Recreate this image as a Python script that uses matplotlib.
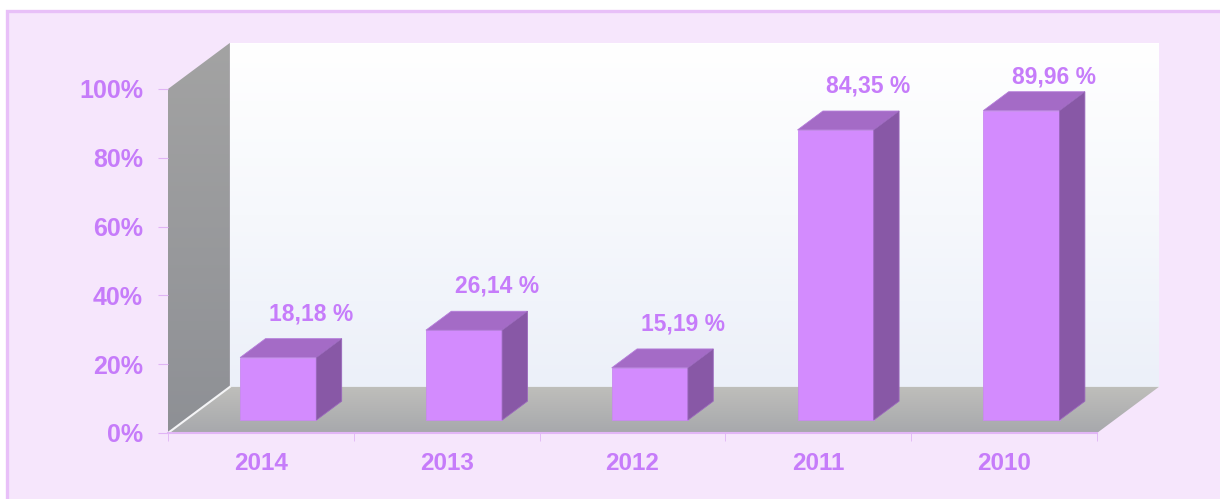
import numpy as np
import matplotlib.pyplot as plt
from matplotlib.patches import Polygon, Rectangle
from matplotlib.colors import LinearSegmentedColormap

years = ['2014', '2013', '2012', '2011', '2010']
values = [18.18, 26.14, 15.19, 84.35, 89.96]
labels = ['18,18 %', '26,14 %', '15,19 %', '84,35 %', '89,96 %']
yticks = [0, 20, 40, 60, 80, 100]

TXT = '#C67CFA'
FRONT = '#D38BFE'
TOP = '#A46BC6'
SIDE = '#8858A6'

# depth of the 3d box in data units
DX, DY = 0.333, 13.4
BW = 0.41
F1, F2 = 0.28, 0.69  # bar front / back depth fraction

plt.rcParams['font.family'] = ['Liberation Sans', 'DejaVu Sans']

fig = plt.figure(figsize=(12.2, 4.99), dpi=100)
fig.patch.set_facecolor('white')
fig.patches.append(Rectangle((7 / 1220, -0.1), 1.1, 1.1 - 11.5 / 499,
                             transform=fig.transFigure, facecolor='#F6E6FC',
                             edgecolor='#E8C0F8', lw=2.4, zorder=-10))

ax = fig.add_axes([168 / 1220, 66 / 499, 929 / 1220, 344 / 499])
ax.patch.set_alpha(0)
for s in ax.spines.values():
    s.set_visible(False)

x0, x1 = -0.5, 4.5
grad = np.linspace(0, 1, 256).reshape(-1, 1)


def gradient_poly(pts, colors, extent, z):
    poly = Polygon(pts, closed=True, facecolor='none', edgecolor='none')
    ax.add_patch(poly)
    cm = LinearSegmentedColormap.from_list('g', colors)
    im = ax.imshow(grad, cmap=cm, origin='lower', aspect='auto',
                   extent=extent, zorder=z, interpolation='bilinear')
    im.set_clip_path(poly)
    im.set_clip_box(fig.bbox)
    return im


# back wall
gradient_poly([[x0 + DX, DY], [x1 + DX, DY], [x1 + DX, 100 + DY], [x0 + DX, 100 + DY]],
              ['#ECF0F9', '#F6F8FC', '#FFFFFF'],
              [x0 + DX, x1 + DX, DY, 100 + DY], 0)
# left side wall
gradient_poly([[x0, 0], [x0 + DX, DY], [x0 + DX, 100 + DY], [x0, 100]],
              ['#8E9095', '#A3A3A3'], [x0, x0 + DX, 0, 100 + DY], 1)
# floor
gradient_poly([[x0, 0], [x1, 0], [x1 + DX, DY], [x0 + DX, DY]],
              ['#A7A8AC', '#BFBFBB'], [x0, x1 + DX, 0, DY], 1)
ax.plot([x0, x0 + DX], [0, DY], color='#F4F4F6', lw=1.5, zorder=2, clip_on=False)

# bars
for i, v in enumerate(values):
    xl = i - BW / 2 + F1 * DX
    xr = xl + BW
    yb = F1 * DY
    yt = yb + v
    d = F2 - F1
    front = Polygon([[xl, yb], [xr, yb], [xr, yt], [xl, yt]],
                    facecolor=FRONT, edgecolor='#C98AF0', lw=0.6, zorder=4)
    top = Polygon([[xl, yt], [xr, yt], [xr + d * DX, yt + d * DY], [xl + d * DX, yt + d * DY]],
                  facecolor=TOP, edgecolor='#B47BDA', lw=0.6, zorder=4)
    rside = Polygon([[xr, yb], [xr + d * DX, yb + d * DY], [xr + d * DX, yt + d * DY], [xr, yt]],
                    facecolor=SIDE, edgecolor='#9A68BC', lw=0.6, zorder=4)
    for p in (front, top, rside):
        p.set_clip_on(False)
        ax.add_patch(p)
    ly = min(yt + d * DY + 7.3, 103.5)
    ax.text(i + 0.27, ly, labels[i], ha='center', va='center',
            color=TXT, fontsize=16.5, fontweight='bold', zorder=5)

ax.set_xlim(-0.5, 4.5)
ax.set_ylim(0, 100)

# axis lines and ticks
ax.plot([x0, x1], [0, 0], color='#E2B6F6', lw=1.5, zorder=3, clip_on=False)
ax.set_yticks(yticks)
ax.set_yticklabels([f'{t}%' for t in yticks])
ax.set_xticks(range(len(years)))
ax.set_xticklabels(years)
ax.set_xticks(np.arange(-0.5, 5, 1), minor=True)
ax.tick_params(axis='y', length=7, color='#E0B4F5', labelcolor=TXT,
               labelsize=18, pad=11)
ax.tick_params(axis='x', which='major', length=0, labelcolor=TXT,
               labelsize=17.5, pad=14)
ax.tick_params(axis='x', which='minor', length=6, color='#E0B4F5')
for t in ax.get_xticklabels() + ax.get_yticklabels():
    t.set_fontweight('bold')

fig.savefig('out.png', dpi=100)
